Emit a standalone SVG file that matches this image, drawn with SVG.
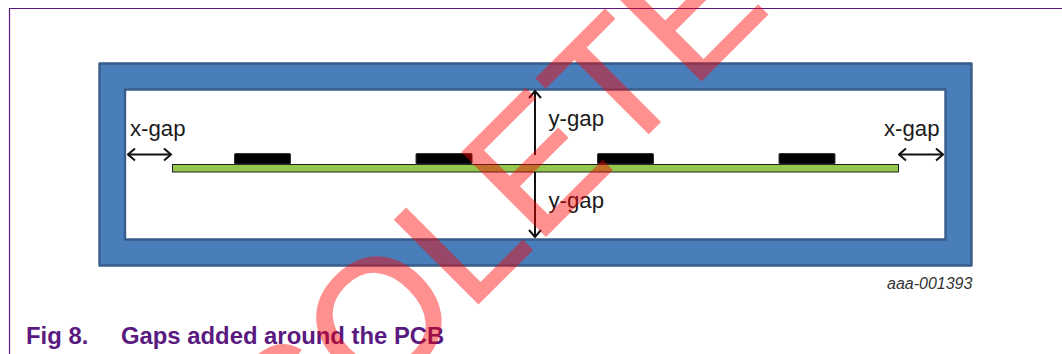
<svg xmlns="http://www.w3.org/2000/svg" width="1062" height="354" viewBox="0 0 1062 354">
<style>
text{font-family:"Liberation Sans",Arial,sans-serif}
.lbl{font-size:22.2px;fill:#1a1a1a}
.cap{font-size:23.85px;font-weight:bold;fill:#5a1a7f}
.chip{fill:#000;stroke:#333;stroke-width:1}
.arr{fill:none;stroke:#111;stroke-width:2}
</style>
<defs>
<marker id="ah" viewBox="0 0 12 14" refX="11" refY="7" markerWidth="12" markerHeight="14" markerUnits="userSpaceOnUse" orient="auto-start-reverse"><path d="M4 1L11 7L4 13" fill="none" stroke="#111" stroke-width="2"/></marker>
</defs>
<rect width="1062" height="354" fill="#fff"/>
<path id="frame-border" d="M1062 8.5H9.5V354" fill="none" stroke="#5a1a7f" stroke-width="1.2"/>
<g id="enclosure"><path d="M99.5 63.5H971.5V265.5H99.5ZM125 89.5V239.5H945.5V89.5Z" fill="#4a7ebb" stroke="#385d8a" stroke-width="2.4" stroke-linejoin="round"/></g>
<g id="pcb">
<rect x="172.5" y="164.5" width="726" height="7.5" fill="#92c64c" stroke="#222" stroke-width="1"/>
</g>
<g id="chip1"><rect class="chip" x="234.5" y="153.5" width="56" height="10.5" rx="1"/></g>
<g id="chip2"><rect class="chip" x="416" y="153.5" width="56" height="10.5" rx="1"/></g>
<g id="chip3"><rect class="chip" x="597.5" y="153.5" width="56" height="10.5" rx="1"/></g>
<g id="chip4"><rect class="chip" x="779" y="153.5" width="56" height="10.5" rx="1"/></g>
<g id="connectors">
<line class="arr" x1="128" y1="154.5" x2="171" y2="154.5" marker-start="url(#ah)" marker-end="url(#ah)"/>
<line class="arr" x1="899" y1="154.5" x2="943" y2="154.5" marker-start="url(#ah)" marker-end="url(#ah)"/>
<line class="arr" x1="535" y1="155" x2="535" y2="91" marker-end="url(#ah)"/>
<line class="arr" x1="535" y1="172" x2="535" y2="237" marker-end="url(#ah)"/>
</g>
<g id="labels">
<text class="lbl" x="130" y="135.5">x-gap</text>
<text class="lbl" x="884" y="135.5">x-gap</text>
<text class="lbl" x="548.5" y="126">y-gap</text>
<text class="lbl" x="548.5" y="207.5">y-gap</text>
<text x="887" y="288.5" font-size="16" font-style="italic" fill="#333">aaa-001393</text>
<text class="cap" x="26" y="344">Fig 8.</text>
<text class="cap" x="121" y="344">Gaps added around the PCB</text>
</g>
<text id="watermark" transform="translate(117 665) rotate(-45)" font-size="172" fill="#ff0000" stroke="#ff0000" stroke-width="1.5" opacity="0.43">OBSOLETE</text>
</svg>
